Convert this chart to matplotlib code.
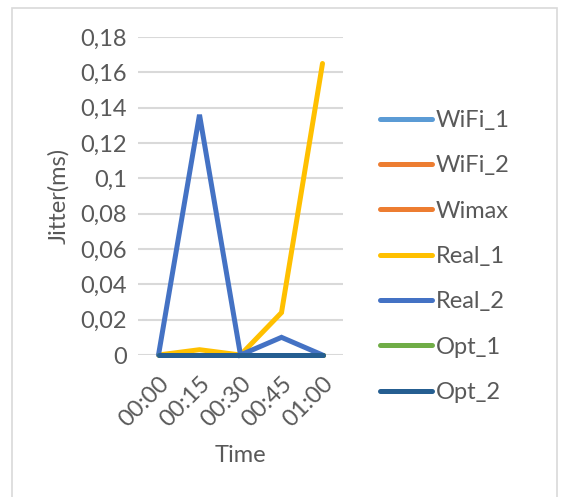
import matplotlib.pyplot as plt
from matplotlib.patches import Rectangle
from matplotlib.ticker import FuncFormatter

plt.rcParams['font.family'] = ['Lato', 'DejaVu Sans']

times = ["00:00", "00:15", "00:30", "00:45", "01:00"]
wifi_1 = [0, 0, 0, 0, 0]
wifi_2 = [0, 0, 0, 0, 0]
wimax = [0, 0, 0, 0, 0]
real_1 = [0, 0.003, 0, 0.024, 0.165]
real_2 = [0, 0.136, 0, 0.010, 0]
opt_1 = [0, 0, 0, 0, 0]
opt_2 = [0, 0, 0, 0, 0]

series = [
    ("WiFi_1", wifi_1, "#5B9BD5"),
    ("WiFi_2", wifi_2, "#ED7D31"),
    ("Wimax", wimax, "#ED7D31"),
    ("Real_1", real_1, "#FFC000"),
    ("Real_2", real_2, "#4472C4"),
    ("Opt_1", opt_1, "#70AD47"),
    ("Opt_2", opt_2, "#255E91"),
]

fs = 17
fig = plt.figure(figsize=(5.7, 4.97), dpi=100)
fig.patches.append(Rectangle((12 / 570, -0.05), 545 / 570, 1.05 - 8 / 497,
                             transform=fig.transFigure, fill=False,
                             edgecolor="#D9D9D9", linewidth=1.2))

ax = fig.add_axes([138 / 570, 1 - 355 / 497, 205 / 570, 318 / 497])
x = list(range(len(times)))
for name, vals, color in series:
    ax.plot(x, vals, color=color, linewidth=3.6, label=name, clip_on=False,
            solid_capstyle="round", solid_joinstyle="miter")

ax.set_xlim(-0.5, len(times) - 0.5)
ax.set_ylim(0, 0.18)
ax.set_yticks([i * 0.02 for i in range(10)])
ax.yaxis.set_major_formatter(FuncFormatter(
    lambda v, p: "0" if abs(v) < 1e-9 else f"{v:.2f}".rstrip("0").replace(".", ",")))
ax.set_xticks(x)
ax.set_xticklabels(times, rotation=45, ha="right", va="top", rotation_mode="anchor")
ax.tick_params(length=0, labelsize=fs, colors="#595959", pad=8)
ax.tick_params(axis="x", pad=13)
ax.grid(axis="y", color="#D9D9D9", linewidth=1.5)
ax.set_axisbelow(True)
for s in ax.spines.values():
    s.set_visible(False)

ax.set_ylabel("Jitter(ms)", fontsize=fs, color="#595959", labelpad=8)
ax.set_xlabel("Time", fontsize=fs, color="#595959", labelpad=10)

ax.legend(loc="center left", bbox_to_anchor=(1.18, 0.31), frameon=False,
          fontsize=fs, labelcolor="#595959", handlelength=2.2,
          handletextpad=0.15, labelspacing=1.03, borderpad=0, borderaxespad=0)

fig.savefig("out.png", dpi=100)
